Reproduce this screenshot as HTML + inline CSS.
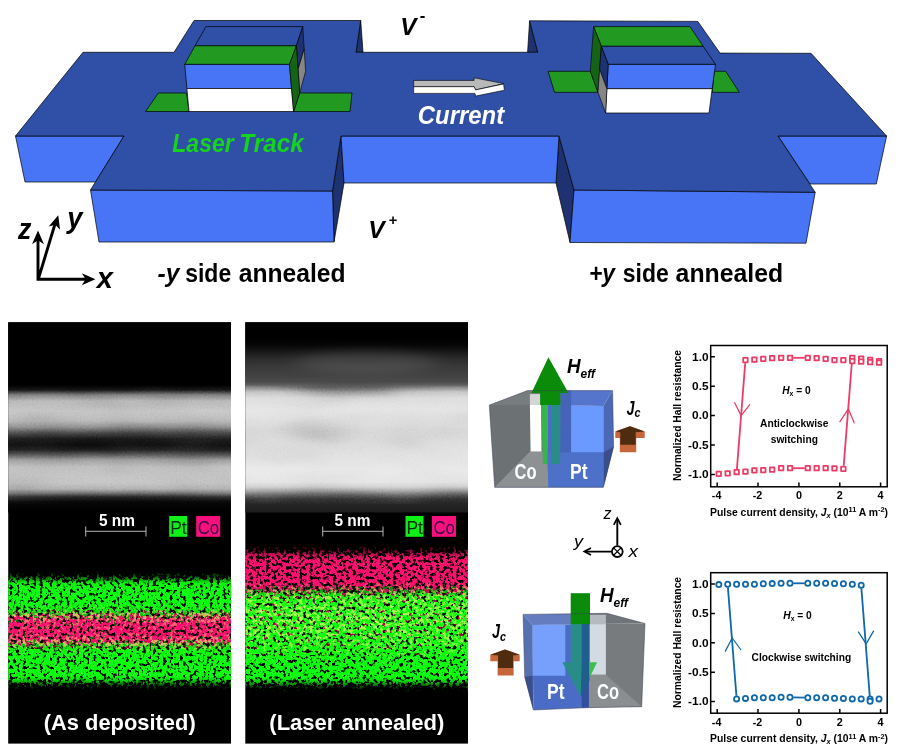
<!DOCTYPE html>
<html lang="en"><head><meta charset="utf-8"><title>Laser annealed Hall device figure</title>
<style>
html,body{margin:0;padding:0;background:#fff;}
body{width:900px;height:750px;overflow:hidden;}
svg{display:block;}
svg text{font-family:"Liberation Sans","DejaVu Sans",sans-serif;}
</style></head>
<body>
<svg width="900" height="750" viewBox="0 0 900 750">
<rect width="900" height="750" fill="#fff"/>
<g id="device">
<polygon points="341,136 344,183 334,242 332.5,191" fill="#1e3170" stroke="#000" stroke-width="0.7" stroke-linejoin="round" />
<polygon points="559,136 574,190 570,242.5 556,183" fill="#1e3170" stroke="#000" stroke-width="0.7" stroke-linejoin="round" />
<polygon points="15.5,136 124,136 95.5,182 25,182" fill="#4875f6" stroke="#000" stroke-width="0.7" stroke-linejoin="round" />
<polygon points="341,136 559,136 556,183 344,183" fill="#4875f6" stroke="#000" stroke-width="0.7" stroke-linejoin="round" />
<polygon points="778,136 886.6,136 876.3,184 810,184" fill="#4875f6" stroke="#000" stroke-width="0.7" stroke-linejoin="round" />
<polygon points="90.5,190 332.5,191 334,242 99,242" fill="#4875f6" stroke="#000" stroke-width="0.7" stroke-linejoin="round" />
<polygon points="574,190 815.2,192.3 806,243.2 570,242.5" fill="#4875f6" stroke="#000" stroke-width="0.7" stroke-linejoin="round" />
<polygon points="360.7,20.5 363,52.3 356,52.3" fill="#1e3170" stroke="#000" stroke-width="0.7" stroke-linejoin="round" />
<polygon points="529.6,20.8 527.6,52.3 537.8,52.3" fill="#1e3170" stroke="#000" stroke-width="0.7" stroke-linejoin="round" />
<polygon points="83,52.3 174,52.3 194,20.5 360.7,20.5 356,52.3 537.8,52.3 529.6,20.8 697.8,21.4 720,53.1 811,53.3 886.6,136 778,136 815.2,192.3 574,190 559,136 341,136 332.5,191 90.5,190 124,136 15.5,136" fill="#304fa6" stroke="#000" stroke-width="0.7" stroke-linejoin="round" />
<polygon points="158.4,93 186.5,93 189,111.5 145.6,111.5" fill="#229a22" stroke="#000" stroke-width="0.7" stroke-linejoin="round" />
<polygon points="299.7,93 352,93 350,111.5 293.6,111.5" fill="#229a22" stroke="#000" stroke-width="0.7" stroke-linejoin="round" />
<polygon points="205.9,26.6 302.8,26.6 296.4,45.8 195,45.8" fill="#304fa6" stroke="#000" stroke-width="0.7" stroke-linejoin="round" />
<polygon points="195,45.8 296.4,45.8 289.5,64.4 184.7,64.4" fill="#229a22" stroke="#000" stroke-width="0.7" stroke-linejoin="round" />
<polygon points="184.7,64.4 289.5,64.4 291.5,88.5 186.9,88.5" fill="#4875f6" stroke="#000" stroke-width="0.7" stroke-linejoin="round" />
<polygon points="186.9,88.5 291.5,88.5 293.6,111.5 189,111.5" fill="#fff" stroke="#000" stroke-width="0.7" stroke-linejoin="round" />
<polygon points="296.4,45.8 302.8,26.6 304.2,49 298,69.4" fill="#1e3170" stroke="#000" stroke-width="0.6" stroke-linejoin="round" />
<polygon points="298,69.4 304.2,49 305.6,71.3 299.7,93" fill="#868686" stroke="#000" stroke-width="0.6" stroke-linejoin="round" />
<polygon points="289.5,64.4 296.4,45.8 299.7,93 293.6,111.5" fill="#156415" stroke="#000" stroke-width="0.6" stroke-linejoin="round" />
<polygon points="548.1,71.3 590.3,71.3 598,92.3 554.5,92.3" fill="#229a22" stroke="#000" stroke-width="0.7" stroke-linejoin="round" />
<polygon points="714.2,71.3 725.7,71.3 739.3,92.3 712.2,92.3" fill="#229a22" stroke="#000" stroke-width="0.7" stroke-linejoin="round" />
<polygon points="593.6,26.6 690,26.6 703.2,46.3 601.3,46.3" fill="#229a22" stroke="#000" stroke-width="0.7" stroke-linejoin="round" />
<polygon points="601.3,46.3 703.2,46.3 715.5,64.4 608.2,64.4" fill="#304fa6" stroke="#000" stroke-width="0.7" stroke-linejoin="round" />
<polygon points="608.2,64.4 715.5,64.4 712.2,88.7 606.9,88.7" fill="#4875f6" stroke="#000" stroke-width="0.7" stroke-linejoin="round" />
<polygon points="606.9,88.7 712.2,88.7 709,113 605.6,113" fill="#fff" stroke="#000" stroke-width="0.7" stroke-linejoin="round" />
<polygon points="593.6,26.6 601.3,46.3 598,92.3 590.3,71.3" fill="#156415" stroke="#000" stroke-width="0.6" stroke-linejoin="round" />
<polygon points="601.3,46.3 608.2,64.4 606.9,88.7 599.6,69.3" fill="#1e3170" stroke="#000" stroke-width="0.6" stroke-linejoin="round" />
<polygon points="599.6,69.3 606.9,88.7 605.6,113 598,92.3" fill="#868686" stroke="#000" stroke-width="0.6" stroke-linejoin="round" />
<polygon points="413.7,80.4 474.1,80.4 474.1,77.8 503.6,83.6 475.6,89.9 474.1,86.7 413.7,86.7" fill="#b9b9b9" stroke="#000" stroke-width="0.6" stroke-linejoin="round" />
<polygon points="413.7,86.7 474.1,86.7 475.6,89.9 503.6,84 504.4,90.2 475.6,96.1 475,93.4 413.7,93.4" fill="#fff" stroke="#000" stroke-width="0.6" stroke-linejoin="round" />
<text x="172.3" y="151.5" font-size="25.5" font-weight="bold" font-style="italic" fill="#14d41c" text-anchor="start" textLength="61.5" lengthAdjust="spacingAndGlyphs">Laser</text>
<text x="239.3" y="151.5" font-size="25.5" font-weight="bold" font-style="italic" fill="#14d41c" text-anchor="start" textLength="64.5" lengthAdjust="spacingAndGlyphs">Track</text>
<text x="417.8" y="123.8" font-size="25.5" font-weight="bold" font-style="italic" fill="#fff" text-anchor="start" textLength="86.3" lengthAdjust="spacingAndGlyphs">Current</text>
<text x="400.3" y="34.6" font-size="24.8" font-weight="bold" font-style="italic" fill="#000" text-anchor="start" textLength="16.2" lengthAdjust="spacingAndGlyphs">V</text>
<text x="419.8" y="20.6" font-size="16" font-weight="bold" fill="#000" text-anchor="start" textLength="5.6" lengthAdjust="spacingAndGlyphs">-</text>
<text x="368.2" y="237.5" font-size="24.8" font-weight="bold" font-style="italic" fill="#000" text-anchor="start" textLength="16.4" lengthAdjust="spacingAndGlyphs">V</text>
<text x="388.8" y="225" font-size="15.5" font-weight="bold" fill="#000" text-anchor="start" textLength="8.6" lengthAdjust="spacingAndGlyphs">+</text>
<text x="157.5" y="281.8" font-size="25.2" font-weight="bold" font-style="italic" fill="#000" text-anchor="start" textLength="22" lengthAdjust="spacingAndGlyphs">-y</text>
<text x="185.2" y="281.8" font-size="25.2" font-weight="bold" fill="#000" text-anchor="start" textLength="46" lengthAdjust="spacingAndGlyphs">side</text>
<text x="238.8" y="281.8" font-size="25.2" font-weight="bold" fill="#000" text-anchor="start" textLength="106.8" lengthAdjust="spacingAndGlyphs">annealed</text>
<text x="589" y="281.8" font-size="25.2" font-weight="bold" font-style="italic" fill="#000" text-anchor="start" textLength="26" lengthAdjust="spacingAndGlyphs">+y</text>
<text x="622.8" y="281.8" font-size="25.2" font-weight="bold" fill="#000" text-anchor="start" textLength="46" lengthAdjust="spacingAndGlyphs">side</text>
<text x="675.6" y="281.8" font-size="25.2" font-weight="bold" fill="#000" text-anchor="start" textLength="107.5" lengthAdjust="spacingAndGlyphs">annealed</text>
<g stroke="#000" stroke-width="2.9" fill="none" stroke-linecap="butt"><path d="M38 280.6V237M38.3 279.2L55.6 222M36.6 279.2H88"/></g><g fill="#000" stroke="#000" stroke-width="1.2" stroke-linejoin="miter"><path d="M38 232.1L42.6 242.6L38 239.6L33.4 242.6Z"/><path d="M57.8 216.6L59.2 228L55.6 224L50.4 225.4Z"/><path d="M93.9 279.2L83.4 283.8L86.4 279.2L83.4 274.6Z"/></g>
<text x="18" y="238.7" font-size="30" font-weight="bold" font-style="italic" fill="#000" text-anchor="start" textLength="13.4" lengthAdjust="spacingAndGlyphs">z</text>
<text x="67.3" y="227.8" font-size="30" font-weight="bold" font-style="italic" fill="#000" text-anchor="start" textLength="15.2" lengthAdjust="spacingAndGlyphs">y</text>
<text x="96.8" y="287.9" font-size="30" font-weight="bold" font-style="italic" fill="#000" text-anchor="start" textLength="16.2" lengthAdjust="spacingAndGlyphs">x</text>
</g>
<g id="micrographs">
<defs><linearGradient id="gL" gradientUnits="userSpaceOnUse" x1="0" y1="322" x2="0" y2="512"><stop offset="0.0000" stop-color="rgb(0,0,0)"/><stop offset="0.3316" stop-color="rgb(0,0,0)"/><stop offset="0.3579" stop-color="rgb(24,24,24)"/><stop offset="0.3842" stop-color="rgb(130,130,130)"/><stop offset="0.4158" stop-color="rgb(186,186,186)"/><stop offset="0.4684" stop-color="rgb(198,198,198)"/><stop offset="0.5211" stop-color="rgb(184,184,184)"/><stop offset="0.5526" stop-color="rgb(150,150,150)"/><stop offset="0.5842" stop-color="rgb(80,80,80)"/><stop offset="0.6158" stop-color="rgb(32,32,32)"/><stop offset="0.6474" stop-color="rgb(20,20,20)"/><stop offset="0.6737" stop-color="rgb(32,32,32)"/><stop offset="0.7000" stop-color="rgb(92,92,92)"/><stop offset="0.7263" stop-color="rgb(160,160,160)"/><stop offset="0.7632" stop-color="rgb(192,192,192)"/><stop offset="0.8474" stop-color="rgb(196,196,196)"/><stop offset="0.8789" stop-color="rgb(178,178,178)"/><stop offset="0.9000" stop-color="rgb(124,124,124)"/><stop offset="0.9211" stop-color="rgb(44,44,44)"/><stop offset="0.9474" stop-color="rgb(8,8,8)"/><stop offset="1.0000" stop-color="rgb(0,0,0)"/></linearGradient><linearGradient id="gR" gradientUnits="userSpaceOnUse" x1="0" y1="322" x2="0" y2="512.5"><stop offset="0.0000" stop-color="rgb(0,0,0)"/><stop offset="0.0840" stop-color="rgb(0,0,0)"/><stop offset="0.1207" stop-color="rgb(6,6,6)"/><stop offset="0.1522" stop-color="rgb(22,22,22)"/><stop offset="0.1890" stop-color="rgb(42,42,42)"/><stop offset="0.2310" stop-color="rgb(56,56,56)"/><stop offset="0.2835" stop-color="rgb(66,66,66)"/><stop offset="0.3150" stop-color="rgb(76,76,76)"/><stop offset="0.3307" stop-color="rgb(96,96,96)"/><stop offset="0.3465" stop-color="rgb(140,140,140)"/><stop offset="0.3675" stop-color="rgb(196,196,196)"/><stop offset="0.3990" stop-color="rgb(220,220,220)"/><stop offset="0.4619" stop-color="rgb(228,228,228)"/><stop offset="0.5669" stop-color="rgb(216,216,216)"/><stop offset="0.6719" stop-color="rgb(222,222,222)"/><stop offset="0.7769" stop-color="rgb(232,232,232)"/><stop offset="0.8399" stop-color="rgb(228,228,228)"/><stop offset="0.8661" stop-color="rgb(208,208,208)"/><stop offset="0.8871" stop-color="rgb(160,160,160)"/><stop offset="0.9081" stop-color="rgb(100,100,100)"/><stop offset="0.9291" stop-color="rgb(56,56,56)"/><stop offset="0.9554" stop-color="rgb(38,38,38)"/><stop offset="0.9816" stop-color="rgb(32,32,32)"/><stop offset="1.0000" stop-color="rgb(28,28,28)"/></linearGradient><linearGradient id="pLg" gradientUnits="userSpaceOnUse" x1="0" y1="571" x2="0" y2="692"><stop offset="0.0000" stop-color="#fff" stop-opacity="0"/><stop offset="0.0331" stop-color="#fff" stop-opacity="0.25"/><stop offset="0.0661" stop-color="#fff" stop-opacity="0.6"/><stop offset="0.0992" stop-color="#fff" stop-opacity="0.95"/><stop offset="0.1405" stop-color="#fff" stop-opacity="1"/><stop offset="0.2893" stop-color="#fff" stop-opacity="1"/><stop offset="0.3306" stop-color="#fff" stop-opacity="0.9"/><stop offset="0.3719" stop-color="#fff" stop-opacity="0.7"/><stop offset="0.4132" stop-color="#fff" stop-opacity="0.45"/><stop offset="0.4545" stop-color="#fff" stop-opacity="0.3"/><stop offset="0.5207" stop-color="#fff" stop-opacity="0.3"/><stop offset="0.5620" stop-color="#fff" stop-opacity="0.5"/><stop offset="0.6033" stop-color="#fff" stop-opacity="0.75"/><stop offset="0.6446" stop-color="#fff" stop-opacity="0.95"/><stop offset="0.6860" stop-color="#fff" stop-opacity="1"/><stop offset="0.8678" stop-color="#fff" stop-opacity="1"/><stop offset="0.9008" stop-color="#fff" stop-opacity="0.85"/><stop offset="0.9339" stop-color="#fff" stop-opacity="0.5"/><stop offset="0.9669" stop-color="#fff" stop-opacity="0.15"/><stop offset="1.0000" stop-color="#fff" stop-opacity="0"/></linearGradient><linearGradient id="pLp" gradientUnits="userSpaceOnUse" x1="0" y1="603" x2="0" y2="656"><stop offset="0.0000" stop-color="#fff" stop-opacity="0"/><stop offset="0.0943" stop-color="#fff" stop-opacity="0.25"/><stop offset="0.1698" stop-color="#fff" stop-opacity="0.55"/><stop offset="0.2453" stop-color="#fff" stop-opacity="0.85"/><stop offset="0.3208" stop-color="#fff" stop-opacity="1"/><stop offset="0.6792" stop-color="#fff" stop-opacity="1"/><stop offset="0.7547" stop-color="#fff" stop-opacity="0.85"/><stop offset="0.8302" stop-color="#fff" stop-opacity="0.55"/><stop offset="0.9057" stop-color="#fff" stop-opacity="0.25"/><stop offset="1.0000" stop-color="#fff" stop-opacity="0"/></linearGradient><linearGradient id="pRp" gradientUnits="userSpaceOnUse" x1="0" y1="542" x2="0" y2="668"><stop offset="0.0000" stop-color="#fff" stop-opacity="0"/><stop offset="0.0317" stop-color="#fff" stop-opacity="0.15"/><stop offset="0.0635" stop-color="#fff" stop-opacity="0.4"/><stop offset="0.0952" stop-color="#fff" stop-opacity="0.75"/><stop offset="0.1270" stop-color="#fff" stop-opacity="0.95"/><stop offset="0.1587" stop-color="#fff" stop-opacity="1"/><stop offset="0.3254" stop-color="#fff" stop-opacity="1"/><stop offset="0.3571" stop-color="#fff" stop-opacity="0.9"/><stop offset="0.3889" stop-color="#fff" stop-opacity="0.75"/><stop offset="0.4286" stop-color="#fff" stop-opacity="0.62"/><stop offset="0.5079" stop-color="#fff" stop-opacity="0.6"/><stop offset="0.6190" stop-color="#fff" stop-opacity="0.66"/><stop offset="0.7381" stop-color="#fff" stop-opacity="0.6"/><stop offset="0.8413" stop-color="#fff" stop-opacity="0.45"/><stop offset="0.9365" stop-color="#fff" stop-opacity="0.2"/><stop offset="1.0000" stop-color="#fff" stop-opacity="0"/></linearGradient><linearGradient id="pRg" gradientUnits="userSpaceOnUse" x1="0" y1="580" x2="0" y2="693"><stop offset="0.0000" stop-color="#fff" stop-opacity="0"/><stop offset="0.0442" stop-color="#fff" stop-opacity="0.3"/><stop offset="0.0885" stop-color="#fff" stop-opacity="0.6"/><stop offset="0.1327" stop-color="#fff" stop-opacity="0.9"/><stop offset="0.1770" stop-color="#fff" stop-opacity="1"/><stop offset="0.8584" stop-color="#fff" stop-opacity="1"/><stop offset="0.8938" stop-color="#fff" stop-opacity="0.85"/><stop offset="0.9292" stop-color="#fff" stop-opacity="0.5"/><stop offset="0.9646" stop-color="#fff" stop-opacity="0.15"/><stop offset="1.0000" stop-color="#fff" stop-opacity="0"/></linearGradient><filter id="fg1" x="0" y="0" width="100%" height="100%" filterUnits="objectBoundingBox" color-interpolation-filters="sRGB"><feTurbulence type="fractalNoise" baseFrequency="0.3" numOctaves="2" seed="3" result="n"/><feColorMatrix in="n" type="matrix" values="0 0 0 0 0  0 0 0 0 0  0 0 0 0 0  1 0 0 0 0" result="na"/><feComposite in="SourceAlpha" in2="na" operator="arithmetic" k1="0" k2="2.1" k3="7.0" k4="-4.34" result="m0"/><feComposite in="m0" in2="SourceAlpha" operator="in" result="m"/><feFlood flood-color="#0cff0c"/><feComposite operator="in" in2="m"/><feGaussianBlur stdDeviation="0.7"/></filter><filter id="fp1" x="0" y="0" width="100%" height="100%" filterUnits="objectBoundingBox" color-interpolation-filters="sRGB"><feTurbulence type="fractalNoise" baseFrequency="0.3" numOctaves="2" seed="11" result="n"/><feColorMatrix in="n" type="matrix" values="0 0 0 0 0  0 0 0 0 0  0 0 0 0 0  1 0 0 0 0" result="na"/><feComposite in="SourceAlpha" in2="na" operator="arithmetic" k1="0" k2="2.1" k3="7.0" k4="-4.48" result="m0"/><feComposite in="m0" in2="SourceAlpha" operator="in" result="m"/><feFlood flood-color="#ff1070"/><feComposite operator="in" in2="m"/><feGaussianBlur stdDeviation="0.7"/></filter><filter id="fg2" x="0" y="0" width="100%" height="100%" filterUnits="objectBoundingBox" color-interpolation-filters="sRGB"><feTurbulence type="fractalNoise" baseFrequency="0.3" numOctaves="2" seed="7" result="n"/><feColorMatrix in="n" type="matrix" values="0 0 0 0 0  0 0 0 0 0  0 0 0 0 0  1 0 0 0 0" result="na"/><feComposite in="SourceAlpha" in2="na" operator="arithmetic" k1="0" k2="2.1" k3="7.0" k4="-4.34" result="m0"/><feComposite in="m0" in2="SourceAlpha" operator="in" result="m"/><feFlood flood-color="#0cff0c"/><feComposite operator="in" in2="m"/><feGaussianBlur stdDeviation="0.7"/></filter><filter id="fp2" x="0" y="0" width="100%" height="100%" filterUnits="objectBoundingBox" color-interpolation-filters="sRGB"><feTurbulence type="fractalNoise" baseFrequency="0.3" numOctaves="2" seed="23" result="n"/><feColorMatrix in="n" type="matrix" values="0 0 0 0 0  0 0 0 0 0  0 0 0 0 0  1 0 0 0 0" result="na"/><feComposite in="SourceAlpha" in2="na" operator="arithmetic" k1="0" k2="2.1" k3="7.0" k4="-4.62" result="m0"/><feComposite in="m0" in2="SourceAlpha" operator="in" result="m"/><feFlood flood-color="#ff1070"/><feComposite operator="in" in2="m"/><feGaussianBlur stdDeviation="0.7"/></filter><filter id="lf" x="0" y="0" width="100%" height="100%" color-interpolation-filters="sRGB"><feTurbulence type="fractalNoise" baseFrequency="0.014 0.045" numOctaves="2" seed="8"/><feColorMatrix type="matrix" values="1.2 1.2 0 0 -0.7  1.2 1.2 0 0 -0.7  1.2 1.2 0 0 -0.7  0 0 0 0 1"/></filter><filter id="gr" x="0" y="0" width="100%" height="100%" color-interpolation-filters="sRGB"><feTurbulence type="fractalNoise" baseFrequency="0.55" numOctaves="1" seed="2"/><feColorMatrix type="matrix" values="1 1 0 0 -0.5  1 1 0 0 -0.5  1 1 0 0 -0.5  0 0 0 0 1"/></filter><filter id="bl" x="-40%" y="-100%" width="180%" height="300%"><feGaussianBlur stdDeviation="12 5"/></filter></defs>
<rect x="8.2" y="322.3" width="222.8" height="421.3" fill="#000"/>
<rect x="245.3" y="322.3" width="222.7" height="421.3" fill="#000"/>
<rect x="8.2" y="322.3" width="222.8" height="190.2" fill="url(#gL)"/>
<rect x="245.3" y="322.3" width="222.7" height="190.2" fill="url(#gR)"/>
<ellipse cx="366" cy="362" rx="70" ry="12" fill="#fff" opacity="0.09" filter="url(#bl)"/>
<ellipse cx="350" cy="388" rx="50" ry="5" fill="#404040" opacity="0.55" filter="url(#bl)"/>
<ellipse cx="318" cy="432" rx="30" ry="9" fill="#000" opacity="0.10" filter="url(#bl)"/>
<ellipse cx="95" cy="444" rx="55" ry="5" fill="#000" opacity="0.45" filter="url(#bl)"/>
<rect x="8.2" y="386" width="222.8" height="118" filter="url(#lf)" opacity="0.22" style="mix-blend-mode:soft-light"/>
<rect x="8.2" y="386" width="222.8" height="118" filter="url(#gr)" opacity="0.16" style="mix-blend-mode:soft-light"/>
<rect x="245.3" y="386" width="222.7" height="118" filter="url(#lf)" opacity="0.22" style="mix-blend-mode:soft-light"/>
<rect x="245.3" y="386" width="222.7" height="118" filter="url(#gr)" opacity="0.16" style="mix-blend-mode:soft-light"/>
<rect x="8.2" y="560" width="222.8" height="135" fill="url(#pLg)" filter="url(#fg1)"/>
<rect x="8.2" y="560" width="222.8" height="135" fill="url(#pLp)" filter="url(#fp1)" style="mix-blend-mode:screen"/>
<rect x="245.3" y="538" width="222.7" height="158" fill="url(#pRg)" filter="url(#fg2)"/>
<rect x="245.3" y="538" width="222.7" height="158" fill="url(#pRp)" filter="url(#fp2)" style="mix-blend-mode:screen"/>
<text x="117" y="526" font-size="16" font-weight="bold" fill="#fff" text-anchor="middle" textLength="36" lengthAdjust="spacingAndGlyphs">5 nm</text>
<path d="M85.7 531.3H146M85.7 526.5v10M146 526.5v10" stroke="#c8c8c8" stroke-width="0.9" fill="none"/>
<rect x="169.2" y="516" width="18" height="20.8" fill="#10f018"/>
<rect x="196.2" y="516" width="24" height="20.8" fill="#f8107c"/>
<text x="178.4" y="533.5" font-size="18.5" fill="#062a0a" text-anchor="middle" textLength="16.5" lengthAdjust="spacingAndGlyphs">Pt</text>
<text x="208.4" y="533.5" font-size="18.5" fill="#34084a" text-anchor="middle" textLength="21.5" lengthAdjust="spacingAndGlyphs">Co</text>
<text x="352.5" y="526" font-size="16" font-weight="bold" fill="#fff" text-anchor="middle" textLength="36" lengthAdjust="spacingAndGlyphs">5 nm</text>
<path d="M322.7 531.3H383M322.7 526.5v10M383 526.5v10" stroke="#c8c8c8" stroke-width="0.9" fill="none"/>
<rect x="405.5" y="516" width="18" height="20.8" fill="#10f018"/>
<rect x="432.0" y="516" width="24" height="20.8" fill="#f8107c"/>
<text x="414.7" y="533.5" font-size="18.5" fill="#062a0a" text-anchor="middle" textLength="16.5" lengthAdjust="spacingAndGlyphs">Pt</text>
<text x="444.2" y="533.5" font-size="18.5" fill="#34084a" text-anchor="middle" textLength="21.5" lengthAdjust="spacingAndGlyphs">Co</text>
<text x="119.7" y="729.5" font-size="22" font-weight="bold" fill="#fff" text-anchor="middle" textLength="152" lengthAdjust="spacingAndGlyphs">(As deposited)</text>
<text x="356.8" y="729.5" font-size="22" font-weight="bold" fill="#fff" text-anchor="middle" textLength="175" lengthAdjust="spacingAndGlyphs">(Laser annealed)</text>
</g>
<g id="cubes">
<polygon points="489.3,405.1 527.5,390.6 547.3,390.6 547.3,405.1" fill="#777c7f"  />
<polygon points="489.3,405.1 547.3,405.1 548.4,487.3 494.7,487.3" fill="#6c7174"  />
<polygon points="494.7,487.3 529.9,451.5 547.3,451.5 548.4,487.3" fill="#8d9193"  />
<polygon points="529.9,394.1 541.1,394.1 541.1,405.1 529.9,405.1" fill="#d4d6d6"  />
<polygon points="529.9,405.1 541.1,405.1 541.5,451.5 530.6,451.5" fill="#ffffff"  />
<polygon points="547.3,390.6 612.6,390.6 603.4,406.1 547.3,405.1" fill="#5575cc"  />
<polygon points="547.3,405.1 603.4,406.1 603.4,487.3 548.4,487.3" fill="#4a6cc6"  />
<polygon points="560.4,390.6 571.1,390.6 571.1,452.5 560.4,452.5" fill="#4563b8"  />
<polygon points="571.1,406.1 603,406.1 603,452.5 571.1,452.5" fill="#6a9aff"  />
<polygon points="603.4,406.1 612.6,390.6 613.6,446.7 603.4,487.3" fill="#4b68b4"  />
<polygon points="603.4,452.5 613.6,446.7 603.4,487.3" fill="#3a4d8c"  />
<polygon points="548.4,487.3 547.3,452.5 603.4,452.5 603.4,487.3" fill="#4d70c8"  />
<polygon points="541.1,405.1 547.9,405.1 547.3,464.1 543,464.1" fill="#37b44c"  />
<polygon points="550.8,405.1 560.4,405.1 560,464.1 551.7,464.1" fill="#2a8c88"  />
<polygon points="548.4,357.3 568.5,392.9 560.4,392.9 560.4,405.1 540.1,405.1 540.1,392.9 531.4,392.9" fill="#0a8c0a"  />
<polygon points="489.3,405.1 527.5,390.6 612.6,390.6 613.6,446.7 603.4,487.3 494.7,487.3" fill="none" stroke="#3a3f55" stroke-width="0.5" stroke-linejoin="round" />
<polygon points="523.1,614.4 588.5,613.6 588.5,624.1 532.4,624.9" fill="#657dbe"  />
<polygon points="523.1,614.4 532.4,624.9 533.4,710 524.7,676.7" fill="#5670b2"  />
<polygon points="524.7,676.7 532.4,675.7 533.4,710" fill="#3b4e8c"  />
<polygon points="532.4,624.9 588.5,624.1 588.5,707.6 533.4,710" fill="#4a6cc6"  />
<polygon points="532.8,624.9 565.3,624.9 565.3,675.7 532.8,675.7" fill="#76a0fc"  />
<polygon points="588.5,613.6 606.9,613.3 645,623.5 588.5,624.1" fill="#70757a"  />
<polygon points="588.5,624.1 645,623.5 641.7,706.7 588.5,707.6" fill="#777b7d"  />
<polygon points="589.5,614.8 605.9,614.8 605.9,624.1 589.5,624.1" fill="#b4bac2"  />
<polygon points="589.5,624.1 605.9,624.1 605.9,674.8 589.5,674.8" fill="#d2dae4"  />
<polygon points="588.5,674.8 605.9,674.8 641.7,706.7 588.5,707.6" fill="#8a8e90"  />
<polygon points="581.7,676.7 588.9,676.7 588.9,707.6 581.7,707.8" fill="#33509f"  />
<polygon points="570.7,624.1 581.7,624.1 581.7,662.2 580.8,696.8 562.4,662.2 570.7,662.2" fill="#2a8c88"  />
<polygon points="581.7,624.1 589.5,624.1 589.5,662.2 589.5,680.6 580.8,696.8 581.7,662.2" fill="#1f5e8e"  />
<polygon points="589.5,662.2 597.2,662.2 589.5,677.7" fill="#3fbd52"  />
<polygon points="570.7,593.2 590,593.2 590,624.1 570.7,624.1" fill="#0a8c0a"  />
<polygon points="523.1,614.4 606.9,613.3 645,623.5 641.7,706.7 588.5,707.6 533.4,710 524.7,676.7" fill="none" stroke="#3a3f55" stroke-width="0.5" stroke-linejoin="round" />
<text x="514.6" y="479" font-size="21.5" font-weight="bold" fill="#fff" text-anchor="start" textLength="22" lengthAdjust="spacingAndGlyphs">Co</text>
<text x="570" y="479" font-size="21.5" font-weight="bold" fill="#fff" text-anchor="start" textLength="17.5" lengthAdjust="spacingAndGlyphs">Pt</text>
<text x="547" y="699.3" font-size="21.5" font-weight="bold" fill="#fff" text-anchor="start" textLength="17.5" lengthAdjust="spacingAndGlyphs">Pt</text>
<text x="597" y="699.3" font-size="21.5" font-weight="bold" fill="#fff" text-anchor="start" textLength="22" lengthAdjust="spacingAndGlyphs">Co</text>
<text x="567" y="372.9" font-size="19.4" font-weight="bold" font-style="italic" fill="#000" text-anchor="start" textLength="13.6" lengthAdjust="spacingAndGlyphs">H</text>
<text x="580.5" y="377.6" font-size="13.5" font-weight="bold" font-style="italic" fill="#000" text-anchor="start" textLength="14.5" lengthAdjust="spacingAndGlyphs">eff</text>
<text x="600" y="601.9" font-size="19.4" font-weight="bold" font-style="italic" fill="#000" text-anchor="start" textLength="13.6" lengthAdjust="spacingAndGlyphs">H</text>
<text x="613.5" y="606.6" font-size="13.5" font-weight="bold" font-style="italic" fill="#000" text-anchor="start" textLength="14.5" lengthAdjust="spacingAndGlyphs">eff</text>
<text x="626.6" y="414.8" font-size="19.4" font-weight="bold" font-style="italic" fill="#000" text-anchor="start" textLength="8" lengthAdjust="spacingAndGlyphs">J</text>
<text x="634.4" y="417.4" font-size="13.5" font-weight="bold" font-style="italic" fill="#000" text-anchor="start" textLength="6" lengthAdjust="spacingAndGlyphs">c</text>
<text x="492.1" y="638.3" font-size="19.4" font-weight="bold" font-style="italic" fill="#000" text-anchor="start" textLength="8" lengthAdjust="spacingAndGlyphs">J</text>
<text x="499.9" y="640.9" font-size="13.5" font-weight="bold" font-style="italic" fill="#000" text-anchor="start" textLength="6" lengthAdjust="spacingAndGlyphs">c</text>
<polygon points="630,426.2 644.7,431.4 644.7,438 636.2,438 636.2,452.2 619.8,452.2 619.8,438 615.3,438 615.3,431.4" fill="#c5673b"  />
<polygon points="630,426.2 644.7,431.4 635.7,432.2 635.7,444.7 620.3,444.7 620.3,432.2 615.3,431.4" fill="#4f2b10"  />
<polygon points="505,649.5 519.7,654.7 519.7,661.3 513.6,661.3 513.6,675.5 497.6,675.5 497.6,661.3 490.3,661.3 490.3,654.7" fill="#c5673b"  />
<polygon points="505,649.5 519.7,654.7 513.1,655.5 513.1,668 498.1,668 498.1,655.5 490.3,654.7" fill="#4f2b10"  />
<g stroke="#000" stroke-width="1.9" fill="none"><path d="M617.3 545.5V519.5M611.3 551.6H586"/><path d="M613.8 524.8L617.3 518L620.8 524.8M591 548.1L584.3 551.6L591 555.1" stroke-width="1.7"/><circle cx="617.3" cy="551.6" r="5.4" fill="#fff" stroke-width="1.8"/><path d="M613.4 547.7L621.2 555.5M621.2 547.7L613.4 555.5" stroke-width="1.2"/></g>
<text x="603.5" y="518.7" font-size="17" font-weight="normal" font-style="italic" fill="#000" text-anchor="start" textLength="8" lengthAdjust="spacingAndGlyphs">z</text>
<text x="574" y="547.4" font-size="17" font-weight="normal" font-style="italic" fill="#000" text-anchor="start" textLength="9" lengthAdjust="spacingAndGlyphs">y</text>
<text x="628.5" y="556.7" font-size="17" font-weight="normal" font-style="italic" fill="#000" text-anchor="start" textLength="9.5" lengthAdjust="spacingAndGlyphs">x</text>
</g>
<g id="charts">
<rect x="710.7" y="345.5" width="176.5" height="141.3" fill="#fff" stroke="#000" stroke-width="1.5"/>
<path d="M717.2 486.8v-4.2M758.0 486.8v-4.2M798.9 486.8v-4.2M839.8 486.8v-4.2M880.6 486.8v-4.2M710.7 356.8h4.2M710.7 386.2h4.2M710.7 415.6h4.2M710.7 445.0h4.2M710.7 474.4h4.2" stroke="#000" stroke-width="1.5" fill="none"/>
<text x="716.6" y="499.2" font-size="10.4" font-weight="bold" text-anchor="middle" textLength="9.5" lengthAdjust="spacingAndGlyphs">-4</text>
<text x="757.4" y="499.2" font-size="10.4" font-weight="bold" text-anchor="middle" textLength="9.5" lengthAdjust="spacingAndGlyphs">-2</text>
<text x="798.9" y="499.2" font-size="10.4" font-weight="bold" text-anchor="middle" textLength="6" lengthAdjust="spacingAndGlyphs">0</text>
<text x="839.8" y="499.2" font-size="10.4" font-weight="bold" text-anchor="middle" textLength="6" lengthAdjust="spacingAndGlyphs">2</text>
<text x="880.6" y="499.2" font-size="10.4" font-weight="bold" text-anchor="middle" textLength="6" lengthAdjust="spacingAndGlyphs">4</text>
<text x="708.6" y="360.5" font-size="10.4" font-weight="bold" text-anchor="end" textLength="16.5" lengthAdjust="spacingAndGlyphs">1.0</text>
<text x="708.6" y="389.9" font-size="10.4" font-weight="bold" text-anchor="end" textLength="16.5" lengthAdjust="spacingAndGlyphs">0.5</text>
<text x="708.6" y="419.3" font-size="10.4" font-weight="bold" text-anchor="end" textLength="16.5" lengthAdjust="spacingAndGlyphs">0.0</text>
<text x="708.6" y="448.7" font-size="10.4" font-weight="bold" text-anchor="end" textLength="20.5" lengthAdjust="spacingAndGlyphs">-0.5</text>
<text x="708.6" y="478.1" font-size="10.4" font-weight="bold" text-anchor="end" textLength="20.5" lengthAdjust="spacingAndGlyphs">-1.0</text>
<text x="710" y="515.9" font-size="10.6" font-weight="bold" textLength="178" lengthAdjust="spacingAndGlyphs">Pulse current density, <tspan font-style="italic">J</tspan><tspan font-size="7.5" font-style="italic" dy="2">x</tspan><tspan dy="-2"> (10</tspan><tspan font-size="7.5" dy="-3.6">11</tspan><tspan dy="3.6"> A m</tspan><tspan font-size="7.5" dy="-3.6">-2</tspan><tspan dy="3.6">)</tspan></text>
<text transform="translate(680.7 415.5) rotate(-90)" font-size="10.6" font-weight="bold" text-anchor="middle" textLength="131" lengthAdjust="spacingAndGlyphs">Normalized Hall resistance</text>
<g stroke="#ec3c66" stroke-width="1.8" fill="none" stroke-linejoin="round">
<polyline points="793.2,357.8 804.6,357.8"/>
<polyline points="793.2,468.2 804.6,468.2"/>
<polyline points="745.2,363.2 736.9,469.0"/>
<polyline points="843.7,465.7 852.0,361.0"/>
<polyline points="734.4,402.2 741.1,415.6 750.0,404.4" stroke-width="1.25"/>
<polyline points="839.6,422.2 848.4,408.9 854.4,423.3" stroke-width="1.25"/>
<rect x="743.2" y="357.8" width="4.5" height="4.5" fill="#fff" stroke-width="1.8"/>
<rect x="752.1" y="357.4" width="4.5" height="4.5" fill="#fff" stroke-width="1.8"/>
<rect x="761.0" y="356.6" width="4.5" height="4.5" fill="#fff" stroke-width="1.8"/>
<rect x="769.9" y="355.9" width="4.5" height="4.5" fill="#fff" stroke-width="1.8"/>
<rect x="778.9" y="355.6" width="4.5" height="4.5" fill="#fff" stroke-width="1.8"/>
<rect x="787.8" y="355.6" width="4.5" height="4.5" fill="#fff" stroke-width="1.8"/>
<rect x="805.5" y="355.6" width="4.5" height="4.5" fill="#fff" stroke-width="1.8"/>
<rect x="814.4" y="355.9" width="4.5" height="4.5" fill="#fff" stroke-width="1.8"/>
<rect x="823.4" y="356.6" width="4.5" height="4.5" fill="#fff" stroke-width="1.8"/>
<rect x="832.2" y="357.8" width="4.5" height="4.5" fill="#fff" stroke-width="1.8"/>
<rect x="841.1" y="357.8" width="4.5" height="4.5" fill="#fff" stroke-width="1.8"/>
<rect x="850.0" y="355.6" width="4.5" height="4.5" fill="#fff" stroke-width="1.8"/>
<rect x="858.9" y="356.4" width="4.5" height="4.5" fill="#fff" stroke-width="1.8"/>
<rect x="867.9" y="357.6" width="4.5" height="4.5" fill="#fff" stroke-width="1.8"/>
<rect x="876.8" y="358.8" width="4.5" height="4.5" fill="#fff" stroke-width="1.8"/>
<rect x="876.8" y="360.4" width="4.5" height="4.5" fill="#fff" stroke-width="1.8"/>
<rect x="867.9" y="359.9" width="4.5" height="4.5" fill="#fff" stroke-width="1.8"/>
<rect x="858.9" y="359.4" width="4.5" height="4.5" fill="#fff" stroke-width="1.8"/>
<rect x="850.0" y="358.8" width="4.5" height="4.5" fill="#fff" stroke-width="1.8"/>
<rect x="716.5" y="471.6" width="4.5" height="4.5" fill="#fff" stroke-width="1.8"/>
<rect x="725.4" y="471.1" width="4.5" height="4.5" fill="#fff" stroke-width="1.8"/>
<rect x="734.4" y="469.9" width="4.5" height="4.5" fill="#fff" stroke-width="1.8"/>
<rect x="743.2" y="469.4" width="4.5" height="4.5" fill="#fff" stroke-width="1.8"/>
<rect x="752.1" y="468.1" width="4.5" height="4.5" fill="#fff" stroke-width="1.8"/>
<rect x="761.0" y="467.8" width="4.5" height="4.5" fill="#fff" stroke-width="1.8"/>
<rect x="769.9" y="467.4" width="4.5" height="4.5" fill="#fff" stroke-width="1.8"/>
<rect x="778.9" y="465.9" width="4.5" height="4.5" fill="#fff" stroke-width="1.8"/>
<rect x="787.8" y="465.9" width="4.5" height="4.5" fill="#fff" stroke-width="1.8"/>
<rect x="805.5" y="465.9" width="4.5" height="4.5" fill="#fff" stroke-width="1.8"/>
<rect x="814.4" y="465.9" width="4.5" height="4.5" fill="#fff" stroke-width="1.8"/>
<rect x="823.4" y="465.9" width="4.5" height="4.5" fill="#fff" stroke-width="1.8"/>
<rect x="832.2" y="466.1" width="4.5" height="4.5" fill="#fff" stroke-width="1.8"/>
<rect x="841.1" y="466.6" width="4.5" height="4.5" fill="#fff" stroke-width="1.8"/>
</g>
<text x="782.2" y="394" font-size="11.2" font-weight="bold" textLength="28.5" lengthAdjust="spacingAndGlyphs"><tspan font-style="italic">H</tspan><tspan font-size="7.5" dy="2">x</tspan><tspan dy="-2"> = 0</tspan></text>
<text x="760" y="427.3" font-size="11.2" font-weight="bold" textLength="68.5" lengthAdjust="spacingAndGlyphs">Anticlockwise</text>
<text x="770.7" y="443.3" font-size="11.2" font-weight="bold" textLength="47.2" lengthAdjust="spacingAndGlyphs">switching</text>
<rect x="710.7" y="572.7" width="176.5" height="140.5" fill="#fff" stroke="#000" stroke-width="1.5"/>
<path d="M717.2 713.2v-4.2M758.0 713.2v-4.2M798.9 713.2v-4.2M839.8 713.2v-4.2M880.6 713.2v-4.2M710.7 584.0h4.2M710.7 613.4h4.2M710.7 642.8h4.2M710.7 672.2h4.2M710.7 701.6h4.2" stroke="#000" stroke-width="1.5" fill="none"/>
<text x="716.6" y="725.8" font-size="10.4" font-weight="bold" text-anchor="middle" textLength="9.5" lengthAdjust="spacingAndGlyphs">-4</text>
<text x="757.4" y="725.8" font-size="10.4" font-weight="bold" text-anchor="middle" textLength="9.5" lengthAdjust="spacingAndGlyphs">-2</text>
<text x="798.9" y="725.8" font-size="10.4" font-weight="bold" text-anchor="middle" textLength="6" lengthAdjust="spacingAndGlyphs">0</text>
<text x="839.8" y="725.8" font-size="10.4" font-weight="bold" text-anchor="middle" textLength="6" lengthAdjust="spacingAndGlyphs">2</text>
<text x="880.6" y="725.8" font-size="10.4" font-weight="bold" text-anchor="middle" textLength="6" lengthAdjust="spacingAndGlyphs">4</text>
<text x="708.6" y="587.7" font-size="10.4" font-weight="bold" text-anchor="end" textLength="16.5" lengthAdjust="spacingAndGlyphs">1.0</text>
<text x="708.6" y="617.1" font-size="10.4" font-weight="bold" text-anchor="end" textLength="16.5" lengthAdjust="spacingAndGlyphs">0.5</text>
<text x="708.6" y="646.5" font-size="10.4" font-weight="bold" text-anchor="end" textLength="16.5" lengthAdjust="spacingAndGlyphs">0.0</text>
<text x="708.6" y="675.9" font-size="10.4" font-weight="bold" text-anchor="end" textLength="20.5" lengthAdjust="spacingAndGlyphs">-0.5</text>
<text x="708.6" y="705.3" font-size="10.4" font-weight="bold" text-anchor="end" textLength="20.5" lengthAdjust="spacingAndGlyphs">-1.0</text>
<text x="710" y="742.3" font-size="10.6" font-weight="bold" textLength="178" lengthAdjust="spacingAndGlyphs">Pulse current density, <tspan font-style="italic">J</tspan><tspan font-size="7.5" font-style="italic" dy="2">x</tspan><tspan dy="-2"> (10</tspan><tspan font-size="7.5" dy="-3.6">11</tspan><tspan dy="3.6"> A m</tspan><tspan font-size="7.5" dy="-3.6">-2</tspan><tspan dy="3.6">)</tspan></text>
<text transform="translate(680.7 642.4) rotate(-90)" font-size="10.6" font-weight="bold" text-anchor="middle" textLength="131" lengthAdjust="spacingAndGlyphs">Normalized Hall resistance</text>
<g stroke="#0f68ac" stroke-width="1.8" fill="none" stroke-linejoin="round">
<polyline points="793.2,583.3 804.6,583.3"/>
<polyline points="793.2,697.4 804.6,697.7"/>
<polyline points="736.4,695.7 727.9,587.4"/>
<polyline points="861.4,588.4 869.9,698.1"/>
<polyline points="725.1,651.6 732.2,638.0 741.1,650.0" stroke-width="1.25"/>
<polyline points="858.2,631.7 866.2,643.9 873.8,630.6" stroke-width="1.25"/>
<circle cx="718.8" cy="584.6" r="2.6" fill="#fff" stroke-width="1.8"/>
<circle cx="727.7" cy="584.2" r="2.6" fill="#fff" stroke-width="1.8"/>
<circle cx="736.6" cy="584.2" r="2.6" fill="#fff" stroke-width="1.8"/>
<circle cx="745.5" cy="584.2" r="2.6" fill="#fff" stroke-width="1.8"/>
<circle cx="754.4" cy="584.2" r="2.6" fill="#fff" stroke-width="1.8"/>
<circle cx="763.3" cy="583.8" r="2.6" fill="#fff" stroke-width="1.8"/>
<circle cx="772.2" cy="583.6" r="2.6" fill="#fff" stroke-width="1.8"/>
<circle cx="781.1" cy="583.3" r="2.6" fill="#fff" stroke-width="1.8"/>
<circle cx="790.0" cy="583.3" r="2.6" fill="#fff" stroke-width="1.8"/>
<circle cx="807.8" cy="583.3" r="2.6" fill="#fff" stroke-width="1.8"/>
<circle cx="816.7" cy="583.3" r="2.6" fill="#fff" stroke-width="1.8"/>
<circle cx="825.6" cy="583.3" r="2.6" fill="#fff" stroke-width="1.8"/>
<circle cx="834.5" cy="583.5" r="2.6" fill="#fff" stroke-width="1.8"/>
<circle cx="843.4" cy="583.7" r="2.6" fill="#fff" stroke-width="1.8"/>
<circle cx="852.3" cy="584.2" r="2.6" fill="#fff" stroke-width="1.8"/>
<circle cx="861.2" cy="585.2" r="2.6" fill="#fff" stroke-width="1.8"/>
<circle cx="736.6" cy="698.9" r="2.6" fill="#fff" stroke-width="1.8"/>
<circle cx="745.5" cy="698.4" r="2.6" fill="#fff" stroke-width="1.8"/>
<circle cx="754.4" cy="697.8" r="2.6" fill="#fff" stroke-width="1.8"/>
<circle cx="763.3" cy="697.8" r="2.6" fill="#fff" stroke-width="1.8"/>
<circle cx="772.2" cy="697.8" r="2.6" fill="#fff" stroke-width="1.8"/>
<circle cx="781.1" cy="697.3" r="2.6" fill="#fff" stroke-width="1.8"/>
<circle cx="790.0" cy="697.3" r="2.6" fill="#fff" stroke-width="1.8"/>
<circle cx="807.8" cy="697.8" r="2.6" fill="#fff" stroke-width="1.8"/>
<circle cx="816.7" cy="697.8" r="2.6" fill="#fff" stroke-width="1.8"/>
<circle cx="825.6" cy="697.8" r="2.6" fill="#fff" stroke-width="1.8"/>
<circle cx="834.5" cy="698.2" r="2.6" fill="#fff" stroke-width="1.8"/>
<circle cx="843.4" cy="698.4" r="2.6" fill="#fff" stroke-width="1.8"/>
<circle cx="852.3" cy="698.9" r="2.6" fill="#fff" stroke-width="1.8"/>
<circle cx="861.2" cy="698.9" r="2.6" fill="#fff" stroke-width="1.8"/>
<circle cx="870.1" cy="698.9" r="2.6" fill="#fff" stroke-width="1.8"/>
<circle cx="879.0" cy="698.9" r="2.6" fill="#fff" stroke-width="1.8"/>
<circle cx="870.1" cy="701.3" r="2.6" fill="#fff" stroke-width="1.8"/>
</g>
<text x="783.3" y="619.4" font-size="11.2" font-weight="bold" textLength="28.5" lengthAdjust="spacingAndGlyphs"><tspan font-style="italic">H</tspan><tspan font-size="7.5" dy="2">x</tspan><tspan dy="-2"> = 0</tspan></text>
<text x="751.6" y="660.7" font-size="11.2" font-weight="bold" textLength="99.5" lengthAdjust="spacingAndGlyphs">Clockwise switching</text>
</g>
</svg>
</body></html>
